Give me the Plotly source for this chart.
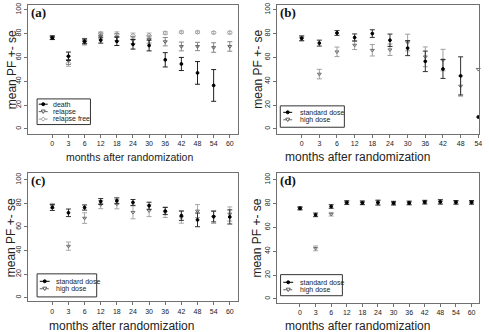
import plotly.graph_objects as go

W, H = 489, 332

# ---------------- data ----------------
months_12 = ["0", "3", "6", "12", "18", "24", "30", "36", "42", "48", "54", "60"]
months_11 = ["0", "3", "6", "12", "18", "24", "30", "36", "42", "48", "54"]

# panel (a)
death_mean = [76.5, 61, 73.5, 74.5, 73.5, 71, 70, 58, 54.5, 47, 36.5]
death_se = [1.5, 3.5, 2, 2.5, 3.5, 4, 4.5, 6, 5.5, 9.5, 13.3]
relapse_mean = [76.5, 57.5, 73, 78, 77, 74.5, 75, 73.2, 69.2, 69.2, 68.3, 69.2]
relapse_se = [1.5, 3.5, 2.5, 2.5, 3, 3, 3, 3.5, 3.7, 3.5, 4, 4]
relfree_mean = [76.5, 55, 74, 80, 79.5, 78.5, 78.5, 80.5, 81.2, 81.2, 80.8, 80.8]
relfree_se = [1.5, 2.5, 2, 1.5, 2, 2, 2, 1.2, 1, 1, 1, 1.2]

# panel (b)
std_b = [76, 72, 80.5, 76.7, 80, 74.4, 67.8, 56.7, 50.3, 44.5, 10]
std_b_se = [2, 2.5, 2, 3, 3.2, 5.2, 6.3, 8.6, 7.9, 16, None]
high_b = [76, 46, 64.7, 70.3, 66, 66.4, 72.5, 60.5, 57.8, 36, 50]
high_b_se = [2, 4, 4, 3.7, 4.8, 4.8, 7, 8.3, 9, 8.5, None]

# panel (c)
std_c = [76.5, 72, 76.5, 81.6, 82.2, 80.8, 78, 73.5, 69.6, 66, 68.8, 68.5]
std_c_se = [2.5, 3.2, 2.2, 2.5, 2.5, 2.5, 3, 3, 4, 5.8, 4.5, 6]
high_c = [78, 43.7, 67.5, 79, 79.4, 72.4, 73.8, 72.5, 68.2, 73.5, 68.5, 71]
high_c_se = [2, 3.5, 4.5, 3.5, 4, 5.5, 5, 4.5, 5, 5.5, 5.5, 6]

# panel (d)
std_d = [76, 70.5, 77.5, 80.8, 80.6, 80.8, 80.3, 80.5, 81.2, 81.4, 81, 81]
std_d_se = [1.2, 1.5, 1.5, 1.5, 1.5, 2, 1.5, 1.5, 1.5, 1.8, 1.5, 1.5]
high_d = [75.8, 42.4, 71, 80.6, 80.5, 80.6, 80.3, 80.4, 81, 81.2, 80.9, 80.9]
high_d_se = [1.2, 2, 1.5, 1.5, 1.5, 2, 1.5, 1.5, 1.5, 1.8, 1.5, 1.5]

ytick_vals = [0, 20, 40, 60, 80, 100]

# ---------------- layout geometry (pixels) ----------------
def px(x):
    return x / W


def py(y):
    return 1 - y / H


panels = {
    "a": dict(x0=28.3, x1=239.3, y0=3, y1=132.5, xr=[-1.5, 11.5], yr=[-4, 104]),
    "b": dict(x0=278.3, x1=482.3, y0=3, y1=132.5, xr=[-1.42, 10.06], yr=[-4, 104]),
    "c": dict(x0=28.3, x1=239.3, y0=172.5, y1=301, xr=[-1.5, 11.5], yr=[-3, 105.4]),
    "d": dict(x0=278.3, x1=482.3, y0=172.5, y1=302.7, xr=[-1.5, 11.5], yr=[-3.3, 105.2]),
}
axis_ids = {"a": "", "b": "2", "c": "3", "d": "4"}

FONT = "Liberation Sans, Arial, sans-serif"
FRAME = "#707070"

fig = go.Figure()


def add_series(panel, mean, se, name, color, symbol, size, ecolor):
    aid = axis_ids[panel]
    xs, ys, es, xs2, ys2 = [], [], [], [], []
    for i, (m, s) in enumerate(zip(mean, se)):
        if s is None:
            xs2.append(i)
            ys2.append(m)
        else:
            xs.append(i)
            ys.append(m)
            es.append(s)
    mk = dict(symbol=symbol, size=size, color=color, line=dict(color=color, width=1))
    fig.add_trace(go.Scatter(
        x=xs, y=ys, mode="markers", name=name, marker=mk, showlegend=False,
        error_y=dict(type="data", array=es, visible=True, color=ecolor, thickness=1, width=2.5),
        xaxis="x" + aid, yaxis="y" + aid))
    if xs2:
        fig.add_trace(go.Scatter(
            x=xs2, y=ys2, mode="markers", name=name, marker=mk, showlegend=False,
            cliponaxis=False, xaxis="x" + aid, yaxis="y" + aid))


# panel a
add_series("a", relfree_mean, relfree_se, "relapse free", "#a0a0a0", "diamond-open", 3.5, "#b4b4b4")
add_series("a", relapse_mean, relapse_se, "relapse", "#606060", "triangle-down-open", 3.5, "#888888")
add_series("a", death_mean, death_se, "death", "#000000", "circle", 2.8, "#202020")
# panel b
add_series("b", high_b, high_b_se, "high dose", "#707070", "triangle-down-open", 3.5, "#a0a0a0")
add_series("b", std_b, std_b_se, "standard dose", "#000000", "circle", 2.8, "#303030")
# panel c
add_series("c", high_c, high_c_se, "high dose", "#707070", "triangle-down-open", 3.5, "#a8a8a8")
add_series("c", std_c, std_c_se, "standard dose", "#000000", "circle", 2.8, "#303030")
# panel d
add_series("d", high_d, high_d_se, "high dose", "#707070", "triangle-down-open", 3.5, "#a8a8a8")
add_series("d", std_d, std_d_se, "standard dose", "#000000", "circle", 2.8, "#303030")

layout = dict(
    width=W, height=H, margin=dict(l=0, r=0, t=0, b=0),
    paper_bgcolor="white", plot_bgcolor="white", showlegend=False,
    font=dict(family=FONT, color="#222"),
)

tick_labels = {"a": months_12, "b": months_11, "c": months_12, "d": months_12}
for p, g in panels.items():
    aid = axis_ids[p]
    common = dict(showline=True, mirror=True, linecolor=FRAME, linewidth=1,
                  ticks="outside", ticklen=3, tickcolor=FRAME, tickwidth=1,
                  showgrid=False, zeroline=False, ticklabeloverflow="allow",
                  tickfont=dict(size=7, family=FONT, color="#222"))
    layout["xaxis" + aid] = dict(
        common, domain=[px(g["x0"]), px(g["x1"])], range=g["xr"],
        tickvals=list(range(len(tick_labels[p]))), ticktext=tick_labels[p],
        anchor="y" + aid)
    layout["yaxis" + aid] = dict(
        common, domain=[py(g["y1"]), py(g["y0"])], range=g["yr"],
        tickvals=ytick_vals, tickangle=-90, anchor="x" + aid)

fig.update_layout(**layout)

annotations = []
shapes = []

# panel letters, axis titles
xtitle = {"a": (130, 155.5, 10.5), "b": (360, 155.5, 12), "c": (122, 325.5, 12), "d": (360, 325.5, 12)}
ytitle_x = {"a": 12, "b": 260, "c": 11, "d": 259}
for p, g in panels.items():
    annotations.append(dict(
        text="<b>(%s)</b>" % p, x=px(g["x0"] + 1), y=py(g["y0"] + 7.5),
        xref="paper", yref="paper", xanchor="left", yanchor="middle", showarrow=False,
        font=dict(family="Liberation Serif, Times New Roman, serif", size=13, color="#111")))
    tx, ty, ts = xtitle[p]
    annotations.append(dict(
        text="months after randomization", x=px(tx), y=py(ty), xref="paper", yref="paper",
        xanchor="center", yanchor="middle", showarrow=False,
        font=dict(family=FONT, size=ts, color="#222")))
    annotations.append(dict(
        text="mean PF +- se", x=px(ytitle_x[p]), y=py((g["y0"] + g["y1"]) / 2),
        xref="paper", yref="paper", xanchor="center", yanchor="middle", showarrow=False,
        textangle=-90, font=dict(family=FONT, size=12, color="#222")))


# legends (drawn in layout)
def legend(box, rows, line_x, mark_x, text_x):
    bx0, by0, bx1, by1 = box
    shapes.append(dict(type="rect", xref="paper", yref="paper",
                       x0=px(bx0), x1=px(bx1), y0=py(by1), y1=py(by0),
                       line=dict(color="#333", width=1), fillcolor="white"))
    for (label, color, dash, sym), ry in rows:
        shapes.append(dict(type="line", xref="paper", yref="paper",
                           x0=px(line_x[0]), x1=px(line_x[1]), y0=py(ry), y1=py(ry),
                           line=dict(color=color, width=1, dash=dash)))
        r = 1.5
        if sym == "circle":
            shapes.append(dict(type="circle", xref="paper", yref="paper",
                               x0=px(mark_x - r), x1=px(mark_x + r), y0=py(ry + r), y1=py(ry - r),
                               fillcolor=color, line=dict(color=color, width=1)))
        elif sym == "tri":
            path = "M %f,%f L %f,%f L %f,%f Z" % (px(mark_x - 2), py(ry - 1.6), px(mark_x + 2), py(ry - 1.6),
                                                  px(mark_x), py(ry + 1.8))
            shapes.append(dict(type="path", xref="paper", yref="paper", path=path,
                               fillcolor="white", line=dict(color=color, width=1)))
        else:
            path = "M %f,%f L %f,%f L %f,%f L %f,%f Z" % (px(mark_x), py(ry - 2), px(mark_x + 2), py(ry),
                                                          px(mark_x), py(ry + 2), px(mark_x - 2), py(ry))
            shapes.append(dict(type="path", xref="paper", yref="paper", path=path,
                               fillcolor="white", line=dict(color=color, width=1)))
        annotations.append(dict(text=label, x=px(text_x), y=py(ry), xref="paper", yref="paper",
                                xanchor="left", yanchor="middle", showarrow=False,
                                font=dict(family=FONT, size=7, color="#222")))


leg_a = [("death", "#000000", "solid", "circle"), ("relapse", "#606060", "dash", "tri"),
         ("relapse free", "#a0a0a0", "dot", "dia")]
leg_d = [("standard dose", "#000000", "solid", "circle"), ("high dose", "#606060", "dash", "tri")]

legend((37.3, 97.5, 91, 123.3), list(zip(leg_a, [102.8, 110.3, 117.8])), (39, 48), 43.5, 51.5)
legend((282, 104.5, 346.5, 126), list(zip(leg_d, [111, 118.5])), (285, 294), 289.5, 300)
legend((37.3, 273.5, 97.3, 296.7), list(zip(leg_d, [281, 288.5])), (40, 50), 45, 54)
legend((282.3, 274.3, 344.5, 295.5), list(zip(leg_d, [282, 289.5])), (285, 295), 290, 300)

fig.update_layout(annotations=annotations, shapes=shapes)

fig.write_html("out.html", config={"displayModeBar": False},
               post_script="document.body.style.margin='0px';document.body.style.padding='0px';")
